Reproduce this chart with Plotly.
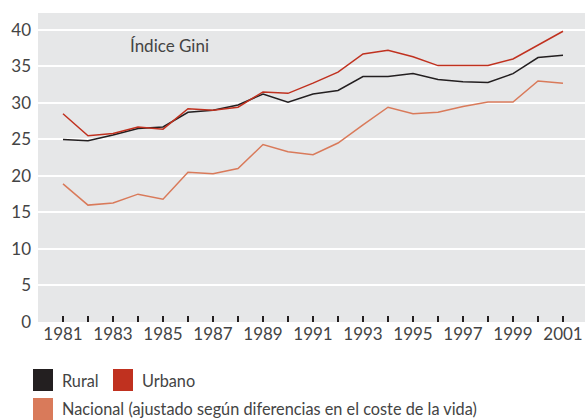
import plotly.graph_objects as go

years = list(range(1981, 2002))
rural = [25.0, 24.8, 25.6, 26.5, 26.7, 28.7, 29.0, 29.7, 31.2, 30.1, 31.2, 31.7,
         33.6, 33.6, 34.0, 33.2, 32.9, 32.8, 34.0, 36.2, 36.5]
urbano = [28.5, 25.5, 25.8, 26.7, 26.4, 29.2, 29.0, 29.4, 31.5, 31.3, 32.7, 34.2,
          36.7, 37.2, 36.3, 35.1, 35.1, 35.1, 36.0, 37.9, 39.8]
nacional = [18.9, 16.0, 16.3, 17.5, 16.8, 20.5, 20.3, 21.0, 24.3, 23.3, 22.9, 24.5,
            27.0, 29.4, 28.5, 28.7, 29.5, 30.1, 30.1, 33.0, 32.7]
xtick_labels = [str(y) if (y - 1981) % 2 == 0 else "" for y in years]
ytick_vals = [0, 5, 10, 15, 20, 25, 30, 35, 40]

C_RURAL = "#231f20"
C_URB = "#c0311f"
C_NAC = "#d97a5a"
FONT = "Lato"
TXT = "#444444"

fig = go.Figure()
fig.add_trace(go.Scatter(x=years, y=nacional, mode="lines", name="Nacional",
                         line=dict(color=C_NAC, width=1.5)))
fig.add_trace(go.Scatter(x=years, y=rural, mode="lines", name="Rural",
                         line=dict(color=C_RURAL, width=1.5)))
fig.add_trace(go.Scatter(x=years, y=urbano, mode="lines", name="Urbano",
                         line=dict(color=C_URB, width=1.5)))

fig.update_layout(
    width=585, height=420,
    margin=dict(l=38, r=0, t=13, b=98, autoexpand=False),
    paper_bgcolor="white", plot_bgcolor="#e6e7e8",
    showlegend=False,
    font=dict(family=FONT, size=17, color=TXT),
)
fig.update_xaxes(
    range=[1980.0, 2001.88], tickvals=years, ticktext=xtick_labels,
    ticks="inside", ticklen=6, tickwidth=1.5, tickcolor="#231f20",
    showgrid=False, zeroline=False, showline=False, automargin=False,
    tickfont=dict(family=FONT, size=17, color=TXT),
)
fig.update_yaxes(
    range=[0, 42.3], tickvals=ytick_vals, showgrid=True, gridcolor="white",
    gridwidth=2, zeroline=False, showline=False, ticks="", ticklabelstandoff=6,
    automargin=False,
    tickfont=dict(family=FONT, size=17, color=TXT),
)

fig.add_annotation(x=1983.6, y=37.8, xref="x", yref="y", text="Índice Gini",
                   showarrow=False, xanchor="left", yanchor="middle",
                   font=dict(family=FONT, size=17, color=TXT))

# legend
def px_x(p):
    return (p - 38) / 547

def px_y(p):
    return (322 - p) / 309

def legend_item(x0, y0, color, label):
    fig.add_shape(type="rect", xref="paper", yref="paper",
                  x0=x0, x1=x0 + 20 / 547, y0=y0, y1=y0 + 22 / 309,
                  fillcolor=color, line=dict(width=0))
    fig.add_annotation(xref="paper", yref="paper", x=x0 + 27 / 547,
                       y=y0 + 11 / 309, text=label, showarrow=False,
                       xanchor="left", yanchor="middle",
                       font=dict(family=FONT, size=16.3, color=TXT))

legend_item(px_x(33), px_y(391), C_RURAL, "Rural")
legend_item(px_x(113), px_y(391), C_URB, "Urbano")
legend_item(px_x(33), px_y(420), C_NAC,
            "Nacional (ajustado según diferencias en el coste de la vida)")

fig.write_html(
    "out.html",
    config={"displayModeBar": False},
    post_script="document.body.style.margin='0';document.body.style.overflow='hidden';",
)
